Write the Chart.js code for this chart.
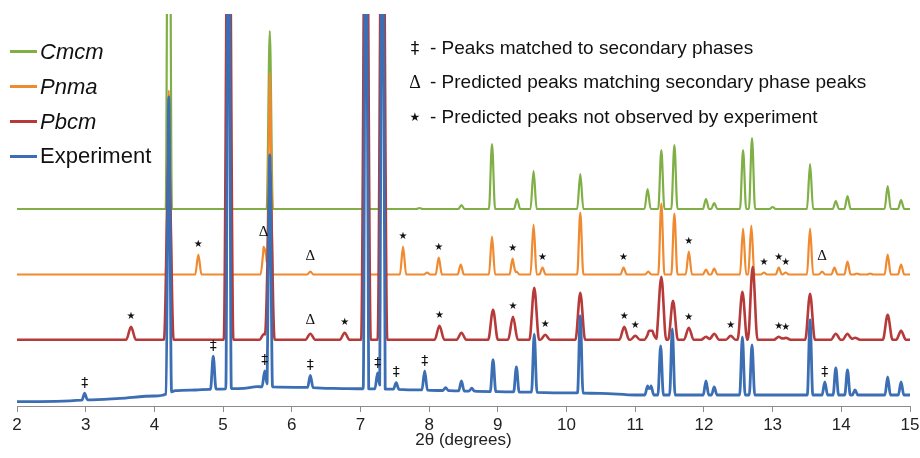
<!DOCTYPE html>
<html><head><meta charset="utf-8">
<script src="https://cdn.jsdelivr.net/npm/chart.js@4.4.1/dist/chart.umd.min.js"></script>
<style>
html,body{margin:0;padding:0;background:#fff;}
#wrap{position:relative;width:920px;height:458px;overflow:hidden;}
#c{position:absolute;left:0;top:0;}
.leg{position:absolute;left:10px;height:26px;display:flex;align-items:center;font-family:'Liberation Sans',Arial,sans-serif;font-size:22px;color:#111;white-space:nowrap;}
.leg .ln{display:inline-block;width:27px;height:3px;margin-right:3px;}
.leg i{font-style:italic;}
.note{position:absolute;left:405px;height:26px;display:flex;align-items:center;font-family:'Liberation Sans',Arial,sans-serif;font-size:19px;color:#111;white-space:nowrap;}
.note .sym{display:inline-block;width:20px;text-align:center;margin-right:5px;}
</style></head>
<body>
<div id="wrap">
<canvas id="c" width="920" height="458"></canvas>
<div class="leg" style="top:38.7px"><span class="ln" style="background:#7FAF45"></span><i>Cmcm</i></div>
<div class="leg" style="top:73.7px"><span class="ln" style="background:#F08A30"></span><i>Pnma</i></div>
<div class="leg" style="top:108.7px"><span class="ln" style="background:#B73A3A"></span><i>Pbcm</i></div>
<div class="leg" style="top:143px"><span class="ln" style="background:#3C6EB4"></span>Experiment</div>
<div class="note" style="top:34.7px"><span class="sym" style="font-size:17px;font-family:'DejaVu Sans'">‡</span>- Peaks matched to secondary phases</div>
<div class="note" style="top:69.3px"><span class="sym" style="font-size:18px;font-family:'Liberation Serif'">Δ</span>- Predicted peaks matching secondary phase peaks</div>
<div class="note" style="top:104.3px"><span class="sym" style="font-size:12px;font-family:'DejaVu Sans'">★</span>- Predicted peaks not observed by experiment</div>
</div>
<script>
// ---- data (2θ in degrees, intensities in arbitrary stacked units) ----
const xTickValues = [2,3,4,5,6,7,8,9,10,11,12,13,14,15];
const seriesNames = ['Cmcm','Pnma','Pbcm','Experiment'];

const offsetCmcm = 197;
const offsetPnma = 131.5;
const offsetPbcm = 66.3;
const baselineExperiment = [[2,4.3],[3,6],[3.5,7.7],[4.0,10],[4.17,12],[4.3,15.3],[4.6,16],[4.8,16.7],[5.3,17.7],[5.5,19.3],[6.2,18.7],[6.6,17.7],[7.56,16.7],[8.3,15.3],[9.0,14.3],[10.5,12.7],[11,11],[15,11]];

// [2θ, peak height above baseline]; 600 = peak runs off the top of the plot
const peaksCmcm = [[4.21,600],[5.08,600],[5.68,178],[7.08,600],[7.32,600],[7.86,1],[8.47,4],[8.915,65],[9.28,10],[9.52,38],[10.2,35],[11.18,20],[11.38,59],[11.57,64],[12.03,10],[12.15,6],[12.57,59],[12.70,71],[13.0,2],[13.545,45],[13.92,8],[14.09,13],[14.675,23],[14.87,9]];
const peaksPnma = [[4.21,184],[4.64,20],[5.08,600],[5.59,26],[5.63,14],[5.68,202],[6.27,3],[7.08,600],[7.32,600],[7.62,28],[7.97,2],[8.14,17],[8.46,10],[8.915,38],[9.215,16],[9.27,3],[9.52,50],[9.65,7],[10.2,62],[10.83,7],[11.19,3],[11.38,71],[11.57,61],[11.78,23],[12.03,5],[12.15,6],[12.57,46],[12.69,49],[12.875,2],[13.09,7],[13.19,2],[13.545,46],[13.72,3],[13.9,7],[14.09,13],[14.23,1],[14.42,1],[14.675,20],[14.87,10]];
const peaksPbcm = [[3.66,13],[4.21,183],[5.08,600],[5.6,6],[5.68,170],[6.27,6],[6.77,7],[7.08,600],[7.32,600],[8.15,14],[8.47,7],[8.93,30],[9.22,23],[9.53,52],[9.69,5],[10.2,47],[10.84,13],[11.0,4],[11.2,7],[11.25,7],[11.38,63],[11.55,39],[11.78,12],[12.03,3],[12.15,6],[12.39,4],[12.56,48],[12.71,73],[13.09,3],[13.19,2],[13.545,46],[13.92,6],[14.09,6],[14.2,2],[14.675,25],[14.87,9]];
const peaksExperiment = [[2.985,7],[4.21,296],[4.857,33],[5.08,600],[5.607,16],[5.68,232],[6.27,12],[7.08,600],[7.25,16],[7.32,600],[7.52,6.5],[7.935,19],[8.24,3],[8.47,10],[8.62,3],[8.93,32],[9.27,25],[9.53,58],[10.2,77],[11.18,9],[11.23,9],[11.37,49],[11.54,66],[12.03,14],[12.15,8],[12.56,58],[12.70,50],[13.545,75],[13.76,13],[13.92,27],[14.09,25],[14.2,5],[14.675,18],[14.87,13]];

// annotation marks: 2θ positions of marked peaks
const starPnma = [4.64,7.62,8.14,9.215,9.65,10.83,11.78,12.875,13.09,13.19];
const deltaPnma = [5.59,6.27,13.72];
const starPbcm = [3.66,6.77,8.15,9.22,9.69,10.84,11.0,11.78,12.39,13.09,13.19];
const deltaPbcm = [6.27];
const daggerExperiment = [2.985,4.857,5.607,6.27,7.25,7.52,7.935,13.76];

// ---- building the line tables ----
function baseFromKnots(knots){
  return function(x){
    for(let i=0;i<knots.length-1;i++){
      const [x0,y0]=knots[i],[x1,y1]=knots[i+1];
      if(x>=x0 && x<=x1) return y0+(y1-y0)*(x-x0)/(x1-x0);
    }
    return knots[knots.length-1][1];
  };
}
function makeProfile(peaks, baseFn, hw){
  return function(x){
    let s=baseFn(x);
    for(const [p,h] of peaks){ const d=Math.abs(x-p); if(d<hw) s+=h*(1-d/hw); }
    return s;
  };
}
function buildData(peaks, profile, hw, extraKnots){
  const xs=new Set([2,15]);
  (extraKnots||[]).forEach(k=>xs.add(k[0]));
  peaks.forEach(([p])=>{xs.add(+(p-hw).toFixed(5));xs.add(p);xs.add(+(p+hw).toFixed(5));});
  return [...xs].filter(v=>v>=2&&v<=15).sort((a,b)=>a-b).map(v=>({x:v,y:profile(v)}));
}
const hwCmcm=0.045, hwPnma=0.045, hwPbcm=0.07, hwExp=0.04;
const profCmcm=makeProfile(peaksCmcm,()=>offsetCmcm,hwCmcm);
const profPnma=makeProfile(peaksPnma,()=>offsetPnma,hwPnma);
const profPbcm=makeProfile(peaksPbcm,()=>offsetPbcm,hwPbcm);
const profExp=makeProfile(peaksExperiment,baseFromKnots(baselineExperiment),hwExp);

const markGroups=[
  {xs:starPnma,peaks:peaksPnma,prof:profPnma,sym:'★',font:"10px 'DejaVu Sans'",gap:10},
  {xs:deltaPnma,peaks:peaksPnma,prof:profPnma,sym:'Δ',font:"15px 'Liberation Serif'",gap:15},
  {xs:starPbcm,peaks:peaksPbcm,prof:profPbcm,sym:'★',font:"10px 'DejaVu Sans'",gap:10},
  {xs:deltaPbcm,peaks:peaksPbcm,prof:profPbcm,sym:'Δ',font:"15px 'Liberation Serif'",gap:14},
  {xs:daggerExperiment,peaks:peaksExperiment,prof:profExp,sym:'‡',font:"14px 'DejaVu Sans'",gap:10}
];
const markerPlugin={id:'markers',afterDatasetsDraw(chart){
  const ctx=chart.ctx, xs=chart.scales.x, ys=chart.scales.y;
  ctx.save(); ctx.fillStyle='#111'; ctx.textAlign='center'; ctx.textBaseline='middle';
  for(const g of markGroups){
    ctx.font=g.font;
    for(const v of g.xs){
      let best=g.peaks[0];
      for(const pk of g.peaks){ if(Math.abs(pk[0]-v)<Math.abs(best[0]-v)) best=pk; }
      const top=g.prof(best[0]);
      ctx.fillText(g.sym, xs.getPixelForValue(v), ys.getPixelForValue(top)-g.gap);
    }
  }
  ctx.restore();
}};

new Chart(document.getElementById('c'),{
  type:'line',
  data:{datasets:[
    {label:seriesNames[3],data:buildData(peaksExperiment,profExp,hwExp,baselineExperiment),borderColor:'#3C6EB4',borderWidth:2.8},
    {label:seriesNames[2],data:buildData(peaksPbcm,profPbcm,hwPbcm),borderColor:'#B73A3A',borderWidth:2.6},
    {label:seriesNames[1],data:buildData(peaksPnma,profPnma,hwPnma),borderColor:'#F08A30',borderWidth:2.2},
    {label:seriesNames[0],data:buildData(peaksCmcm,profCmcm,hwCmcm),borderColor:'#7FAF45',borderWidth:2.2}
  ]},
  options:{
    responsive:false,animation:false,devicePixelRatio:1,
    layout:{padding:{left:17,right:10,top:14,bottom:0}},
    elements:{point:{radius:0},line:{cubicInterpolationMode:'monotone',borderJoinStyle:'round',borderCapStyle:'round'}},
    plugins:{legend:{display:false},tooltip:{enabled:false}},
    scales:{
      x:{type:'linear',min:2,max:15,
        afterBuildTicks(s){s.ticks=xTickValues.map(v=>({value:v}));},
        afterFit(s){s.height=52;s.paddingLeft=0;s.paddingRight=0;},
        ticks:{font:{family:"'Liberation Sans'",size:17},color:'#222',padding:3,maxRotation:0,autoSkip:false},
        grid:{drawOnChartArea:false,drawTicks:true,tickLength:6,color:'#8c8c8c'},
        border:{color:'#8c8c8c',width:1},
        title:{display:true,text:'2θ (degrees)',font:{family:"'Liberation Sans'",size:17},color:'#222',padding:{top:0,bottom:7}}
      },
      y:{display:false,min:0,max:392}
    }
  },
  plugins:[markerPlugin]
});
</script>
</body></html>
